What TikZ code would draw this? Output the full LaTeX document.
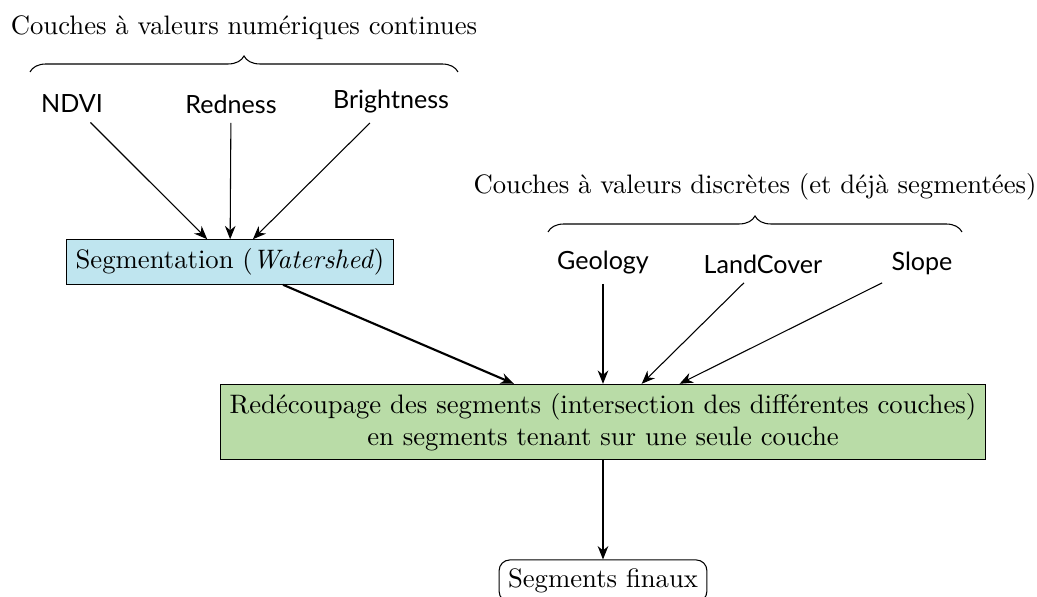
\documentclass[tikz,border=0pt]{standalone}
\usepackage{fontspec}
\newfontfamily\layerfont[Scale=0.94]{Lato}
\usepackage{tikz}
\usetikzlibrary{arrows.meta,decorations.pathreplacing}
\definecolor{segblue}{HTML}{BFE5EF}
\definecolor{cutgreen}{HTML}{B9DCA7}

\begin{document}
\begin{tikzpicture}[x=0.3746pt, y=-0.3746pt,
  layer/.style={font=\layerfont},
  proc/.style={draw, fill=#1},
  link/.style={-{Stealth[length=5pt,width=4pt]}},
  layerbrace/.style={decorate, decoration={brace, amplitude=6pt}}]
  \useasboundingbox (0,0) rectangle (1037,597);

  % couches continues
  \node (titlecont) at (244,28) {Couches à valeurs numériques continues};
  \draw[layerbrace] (30,72) -- (458,72);
  \node[layer] (ndvi) at (72,104) {NDVI};
  \node[layer] (redness) at (231,104) {Redness};
  \node[layer] (bright) at (391,102) {Brightness};

  \node[proc=segblue] (seg) at (230,262) {Segmentation (\textit{Watershed})};

  % couches discretes
  \node (titledisc) at (755,187) {Couches à valeurs discrètes (et déjà segmentées)};
  \draw[layerbrace] (548,232) -- (962,232);
  \node[layer] (geology) at (603,263) {Geology};
  \node[layer] (landcover) at (763,264) {LandCover};
  \node[layer] (slope) at (922,263) {Slope};

  \node[proc=cutgreen, align=center] (cut) at (603,422)
    {Redécoupage des segments (intersection des différentes couches)\\
     en segments tenant sur une seule couche};

  \node[draw, rounded corners] (final) at (603,581) {Segments finaux};

  \draw[link] (ndvi) -- (seg);
  \draw[link] (redness) -- (seg);
  \draw[link] (bright) -- (seg);
  \draw[link] (geology) -- (cut);
  \draw[link] (landcover) -- (cut);
  \draw[link] (slope) -- (cut);
  \draw[link, thick] (seg) -- (cut);
  \draw[link] (cut) -- (final);
\end{tikzpicture}
\end{document}
